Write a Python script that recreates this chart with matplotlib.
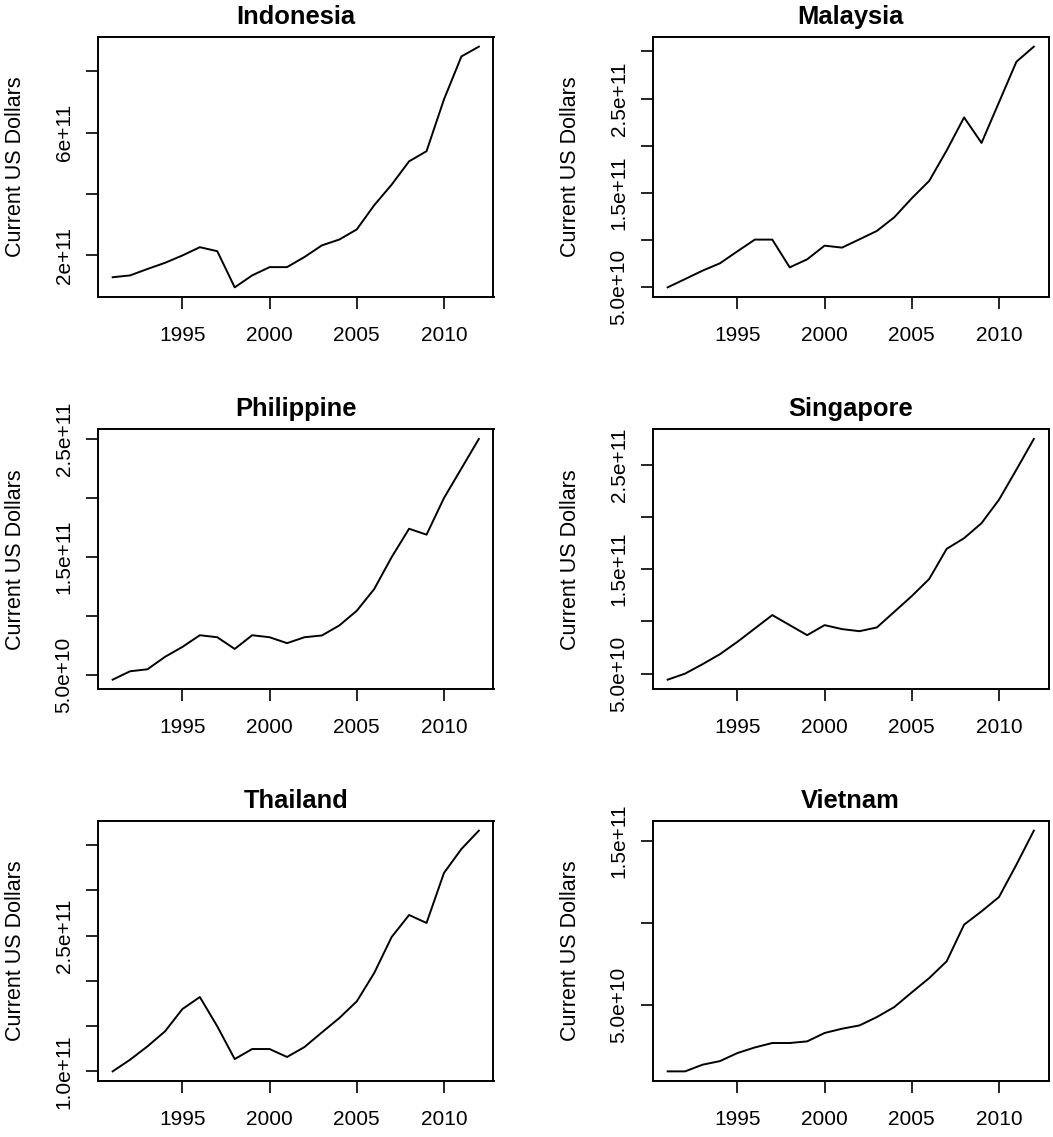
import matplotlib
matplotlib.use("Agg")
import matplotlib.pyplot as plt

plt.rcParams['font.family'] = ['Liberation Sans', 'DejaVu Sans']

years = list(range(1991, 2013))

indonesia = [1.29e11, 1.35e11, 1.56e11, 1.76e11, 2.00e11, 2.27e11, 2.14e11, 0.96e11,
             1.35e11, 1.62e11, 1.62e11, 1.95e11, 2.33e11, 2.52e11, 2.85e11, 3.64e11,
             4.31e11, 5.07e11, 5.40e11, 7.09e11, 8.49e11, 8.81e11]
malaysia = [5.00e10, 5.88e10, 6.77e10, 7.55e10, 8.82e10, 1.006e11, 1.006e11, 7.12e10,
            7.97e10, 9.42e10, 9.21e10, 1.009e11, 1.098e11, 1.243e11, 1.444e11, 1.628e11,
            1.95e11, 2.30e11, 2.03e11, 2.46e11, 2.89e11, 3.05e11]
philippine = [4.63e10, 5.34e10, 5.51e10, 6.56e10, 7.40e10, 8.39e10, 8.22e10, 7.23e10,
              8.39e10, 8.22e10, 7.72e10, 8.22e10, 8.37e10, 9.22e10, 1.046e11, 1.23e11,
              1.50e11, 1.74e11, 1.69e11, 2.00e11, 2.25e11, 2.50e11]
singapore = [4.42e10, 5.00e10, 5.90e10, 6.86e10, 8.04e10, 9.32e10, 1.06e11, 9.64e10,
             8.68e10, 9.64e10, 9.26e10, 9.06e10, 9.42e10, 1.092e11, 1.242e11, 1.406e11,
             1.694e11, 1.796e11, 1.94e11, 2.164e11, 2.452e11, 2.746e11]
thailand = [1.00e11, 1.129e11, 1.277e11, 1.442e11, 1.689e11, 1.822e11, 1.498e11, 1.136e11,
            1.247e11, 1.247e11, 1.159e11, 1.269e11, 1.431e11, 1.59e11, 1.774e11, 2.088e11,
            2.486e11, 2.729e11, 2.641e11, 3.194e11, 3.459e11, 3.662e11]
vietnam = [0.985e10, 0.985e10, 1.39e10, 1.61e10, 2.10e10, 2.44e10, 2.71e10, 2.71e10,
           2.81e10, 3.32e10, 3.58e10, 3.78e10, 4.29e10, 4.90e10, 5.79e10, 6.66e10,
           7.68e10, 9.91e10, 1.072e11, 1.159e11, 1.356e11, 1.563e11]

countries = ["Indonesia", "Malaysia", "Philippine", "Singapore", "Thailand", "Vietnam"]
series = [indonesia, malaysia, philippine, singapore, thailand, vietnam]

x_ticks = [1995, 2000, 2005, 2010]

y_ticks = [
    [2e11, 4e11, 6e11, 8e11],
    [5e10, 1e11, 1.5e11, 2e11, 2.5e11, 3e11],
    [5e10, 1e11, 1.5e11, 2e11, 2.5e11],
    [5e10, 1e11, 1.5e11, 2e11, 2.5e11],
    [1e11, 1.5e11, 2e11, 2.5e11, 3e11, 3.5e11],
    [5e10, 1e11, 1.5e11],
]
y_labels = [
    ["2e+11", "", "6e+11", ""],
    ["5.0e+10", "", "1.5e+11", "", "2.5e+11", ""],
    ["5.0e+10", "", "1.5e+11", "", "2.5e+11"],
    ["5.0e+10", "", "1.5e+11", "", "2.5e+11"],
    ["1.0e+11", "", "", "2.5e+11", "", ""],
    ["5.0e+10", "", "1.5e+11"],
]
ylabel_text = "Current US Dollars"

W, H = 1053, 1137
fig = plt.figure(figsize=(W / 100, H / 100), dpi=100)

col_left = [98, 653]
row_top = [37, 429.3, 821]
aw, ah = 395.5, 260

for i, (name, vals) in enumerate(zip(countries, series)):
    r, c = divmod(i, 2)
    left = col_left[c] / W
    bottom = 1 - (row_top[r] + ah) / H
    ax = fig.add_axes([left, bottom, aw / W, ah / H])
    ax.plot(years, vals, color='black', lw=1.4)
    ax.margins(x=0.04, y=0.04)
    ax.set_xticks(x_ticks)
    ax.set_xticklabels([str(t) for t in x_ticks])
    ax.set_yticks(y_ticks[i])
    ax.set_yticklabels(y_labels[i])
    ax.tick_params(axis='both', direction='out', length=8.6, width=1.2,
                   labelsize=15, colors='black')
    ax.tick_params(axis='x', pad=12)
    ax.tick_params(axis='y', pad=9)
    for lab in ax.get_yticklabels():
        lab.set_rotation(90)
        lab.set_va('center')
        lab.set_ha('right')
    for sp in ax.spines.values():
        sp.set_linewidth(1.4)
        sp.set_color('black')
    ax.set_title(name, fontsize=18.4, fontweight='bold', pad=9.5)
    ax.set_ylabel(ylabel_text, fontsize=15.5)
    ax.yaxis.set_label_coords(-0.182, 0.5)

fig.savefig("out.png", dpi=100)
